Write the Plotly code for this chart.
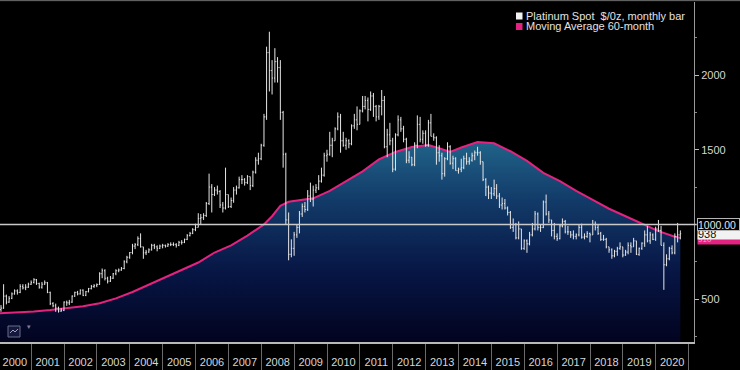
import pandas as pd
import plotly.graph_objects as go

# ---------------- data (monthly bars, Jan-2000 .. Sep-2020) ----------------
OPEN = [
    430, 440, 520, 480, 505, 535, 555, 545, 585, 575, 580, 600,      # 2000
    612, 630, 605, 580, 600, 610, 545, 470, 455, 440, 420, 425,      # 2001
    480, 475, 480, 520, 545, 535, 560, 525, 550, 570, 585, 590,      # 2002
    598, 670, 690, 640, 620, 640, 670, 690, 695, 705, 750, 780,      # 2003
    812, 855, 865, 905, 850, 810, 815, 830, 860, 850, 840, 855,      # 2004
    860, 855, 865, 865, 865, 860, 880, 880, 900, 925, 940, 965,      # 2005
    980, 1040, 1045, 1060, 1140, 1250, 1200, 1230, 1220, 1130, 1110, 1200,  # 2006
    1120, 1160, 1230, 1245, 1300, 1300, 1280, 1320, 1260, 1350, 1430, 1440,  # 2007
    1530, 1720, 2150, 2030, 1980, 2090, 2050, 1750, 1470, 1030, 800, 840,    # 2008
    930, 980, 1070, 1120, 1100, 1190, 1170, 1230, 1245, 1290, 1330, 1460,    # 2009
    1470, 1530, 1560, 1640, 1720, 1560, 1530, 1560, 1540, 1660, 1700, 1670,  # 2010
    1760, 1790, 1830, 1770, 1860, 1790, 1720, 1790, 1830, 1520, 1600, 1560,  # 2011
    1370, 1600, 1700, 1640, 1570, 1430, 1450, 1400, 1530, 1670, 1570, 1610,  # 2012
    1530, 1680, 1590, 1580, 1480, 1460, 1340, 1440, 1520, 1410, 1440, 1360,  # 2013
    1370, 1380, 1440, 1420, 1430, 1460, 1480, 1480, 1420, 1300, 1250, 1210,  # 2014
    1205, 1240, 1190, 1130, 1140, 1110, 1080, 980, 1000, 910, 970, 840,      # 2015
    890, 870, 930, 970, 1070, 980, 980, 1150, 1070, 1030, 960, 920,          # 2016
    905, 990, 1020, 950, 950, 930, 920, 930, 980, 915, 920, 940,             # 2017
    930, 1000, 980, 940, 900, 900, 850, 830, 790, 820, 840, 850,             # 2018
    795, 815, 860, 850, 890, 800, 840, 875, 930, 890, 930, 900,              # 2019
    970, 960, 860, 730, 770, 840, 810, 920, 930,                             # 2020
]
HIGH = [
    460, 600, 530, 520, 545, 565, 565, 600, 600, 600, 610, 625,
    640, 635, 610, 615, 625, 615, 550, 480, 470, 450, 440, 485,
    490, 495, 525, 550, 555, 565, 565, 555, 575, 595, 600, 605,
    680, 705, 700, 650, 655, 675, 700, 705, 715, 760, 790, 815,
    870, 875, 920, 940, 850, 830, 840, 870, 870, 860, 865, 870,
    865, 875, 880, 880, 875, 890, 895, 905, 935, 950, 975, 1005,
    1075, 1070, 1075, 1150, 1340, 1270, 1250, 1260, 1230, 1150, 1380, 1200,
    1180, 1250, 1260, 1320, 1330, 1310, 1330, 1320, 1360, 1450, 1480, 1540,
    1740, 2190, 2290, 2100, 2180, 2120, 2100, 1760, 1480, 1080, 900, 950,
    1000, 1090, 1140, 1150, 1230, 1280, 1260, 1270, 1330, 1380, 1480, 1500,
    1620, 1580, 1650, 1750, 1740, 1620, 1580, 1570, 1670, 1740, 1790, 1770,
    1860, 1860, 1850, 1890, 1880, 1800, 1800, 1900, 1860, 1640, 1680, 1580,
    1610, 1730, 1720, 1660, 1580, 1490, 1450, 1550, 1730, 1720, 1630, 1630,
    1700, 1740, 1610, 1590, 1530, 1480, 1450, 1550, 1530, 1460, 1450, 1380,
    1440, 1460, 1480, 1450, 1480, 1495, 1520, 1490, 1420, 1310, 1260, 1250,
    1300, 1270, 1210, 1180, 1170, 1120, 1090, 1040, 1010, 1020, 970, 900,
    900, 950, 1010, 1090, 1080, 1000, 1160, 1200, 1090, 1030, 1010, 940,
    1000, 1040, 1030, 990, 955, 960, 940, 1000, 1005, 940, 955, 945,
    1030, 1020, 1000, 950, 930, 910, 850, 840, 830, 850, 880, 850,
    830, 880, 880, 910, 890, 845, 880, 960, 990, 950, 940, 985,
    1030, 990, 880, 800, 850, 860, 940, 1010, 960,
]
LOW = [
    415, 435, 465, 475, 500, 530, 530, 540, 565, 560, 575, 595,
    605, 595, 570, 570, 595, 540, 460, 445, 415, 410, 415, 420,
    455, 460, 475, 515, 525, 530, 520, 520, 545, 565, 575, 580,
    595, 640, 625, 605, 615, 635, 660, 680, 690, 700, 740, 770,
    800, 835, 855, 845, 770, 795, 810, 825, 835, 820, 835, 840,
    845, 850, 855, 855, 845, 855, 865, 875, 895, 920, 935, 955,
    980, 1000, 1030, 1050, 1130, 1080, 1190, 1200, 1110, 1080, 1100, 1110,
    1110, 1145, 1200, 1240, 1270, 1260, 1270, 1230, 1250, 1340, 1400, 1430,
    1520, 1700, 1890, 1870, 1950, 1950, 1700, 1380, 1000, 760, 780, 790,
    910, 940, 1050, 1080, 1090, 1150, 1120, 1210, 1230, 1280, 1320, 1420,
    1460, 1450, 1560, 1630, 1480, 1520, 1500, 1510, 1530, 1640, 1630, 1670,
    1750, 1770, 1690, 1760, 1720, 1690, 1700, 1730, 1510, 1450, 1530, 1350,
    1360, 1590, 1620, 1550, 1410, 1410, 1390, 1390, 1510, 1550, 1540, 1520,
    1520, 1590, 1560, 1400, 1420, 1300, 1320, 1430, 1400, 1370, 1360, 1340,
    1350, 1370, 1400, 1400, 1420, 1430, 1460, 1400, 1290, 1190, 1170, 1170,
    1190, 1170, 1110, 1100, 1100, 1060, 970, 950, 900, 900, 830, 830,
    810, 860, 920, 960, 960, 950, 975, 1060, 1010, 920, 900, 890,
    900, 980, 940, 930, 910, 900, 900, 920, 905, 900, 910, 880,
    930, 960, 930, 890, 890, 840, 810, 770, 780, 790, 830, 780,
    790, 800, 810, 850, 795, 790, 830, 850, 880, 870, 895, 890,
    950, 860, 562, 720, 760, 800, 800, 880, 900,
]
CLOSE = [
    440, 520, 480, 505, 535, 555, 545, 585, 575, 580, 600, 612,
    630, 605, 580, 600, 610, 545, 470, 455, 440, 420, 425, 480,
    475, 480, 520, 545, 535, 560, 525, 550, 570, 585, 590, 598,
    670, 690, 640, 620, 640, 670, 690, 695, 705, 750, 780, 812,
    855, 865, 905, 850, 810, 815, 830, 860, 850, 840, 855, 860,
    855, 865, 865, 865, 860, 880, 880, 900, 925, 940, 965, 980,
    1040, 1045, 1060, 1140, 1250, 1200, 1230, 1220, 1130, 1110, 1200, 1120,
    1160, 1230, 1245, 1300, 1300, 1280, 1320, 1260, 1350, 1430, 1440, 1530,
    1720, 2150, 2030, 1980, 2090, 2050, 1750, 1470, 1030, 800, 840, 930,
    980, 1070, 1120, 1100, 1190, 1170, 1230, 1245, 1290, 1330, 1460, 1470,
    1530, 1560, 1640, 1720, 1560, 1530, 1560, 1540, 1660, 1700, 1670, 1760,
    1790, 1830, 1770, 1860, 1790, 1720, 1790, 1830, 1520, 1600, 1560, 1370,
    1600, 1700, 1640, 1570, 1430, 1450, 1400, 1530, 1670, 1570, 1610, 1530,
    1680, 1590, 1580, 1480, 1460, 1340, 1440, 1520, 1410, 1440, 1360, 1370,
    1380, 1440, 1420, 1430, 1460, 1480, 1480, 1420, 1300, 1250, 1210, 1205,
    1240, 1190, 1130, 1140, 1110, 1080, 980, 1000, 910, 970, 840, 890,
    870, 930, 970, 1070, 980, 980, 1150, 1070, 1030, 960, 920, 905,
    990, 1020, 950, 950, 930, 920, 930, 980, 915, 920, 940, 930,
    1000, 980, 940, 900, 900, 850, 830, 790, 820, 840, 850, 795,
    815, 860, 850, 890, 800, 840, 875, 930, 890, 930, 900, 970,
    960, 860, 730, 770, 840, 810, 920, 930, 938,
]

# 60-month moving average
MA_DATES = [
    "1999-12-31", "2000-07-31", "2001-01-31", "2001-07-31", "2002-01-31", "2002-07-31",
    "2003-01-31", "2003-07-31", "2004-01-31", "2004-07-31", "2005-01-31", "2005-07-31",
    "2006-01-31", "2006-07-31", "2007-01-31", "2007-07-31", "2008-01-31", "2008-04-30",
    "2008-07-31", "2008-10-31", "2009-01-31", "2009-07-31", "2010-01-31", "2010-07-31",
    "2011-01-31", "2011-07-31", "2012-01-31", "2012-07-31", "2013-01-31", "2013-05-31",
    "2013-09-30", "2014-01-31", "2014-07-31", "2015-01-31", "2015-07-31", "2016-01-31",
    "2016-07-31", "2017-01-31", "2017-07-31", "2018-01-31", "2018-07-31", "2019-01-31",
    "2019-07-31", "2020-01-31", "2020-07-31", "2020-09-30",
]
MA_VALUES = [
    404, 410, 418, 427, 438, 452,
    472, 505, 548, 598, 648, 695,
    745, 812, 860, 925, 1000, 1055,
    1125, 1152, 1160, 1175, 1225, 1290,
    1355, 1435, 1485, 1518, 1532, 1510,
    1485, 1515, 1552, 1543, 1490, 1425,
    1345, 1290, 1225, 1165, 1105, 1055,
    1005, 955, 918, 910,
]

LAST_PRICE = CLOSE[-1]
LAST_MA = MA_VALUES[-1]
HLINE_LEVEL = 1000
SERIES_NAMES = ["Platinum Spot  $/0z, monthly bar", "Moving Average 60-month"]

DATES = pd.date_range("2000-01-31", periods=len(CLOSE), freq="ME")

# ---------------- figure ----------------
PINK = "#e3237f"
BAR = "#e6e6e6"
FONT = "Liberation Sans, Arial, sans-serif"
X_RANGE = ["2000-01-20", "2021-03-01"]
Y_RANGE = [213, 2489]

fig = go.Figure()

# moving average with gradient fill (base axes, drawn underneath)
fig.add_trace(go.Scatter(
    x=MA_DATES, y=MA_VALUES, mode="lines",
    line=dict(color=PINK, width=2),
    fill="tozeroy",
    fillgradient=dict(
        type="vertical", start=213, stop=1560,
        colorscale=[[0, "#02031f"], [0.35, "#071645"], [0.7, "#123a68"], [1, "#20648a"]],
    ),
    showlegend=False, hoverinfo="skip",
    xaxis="x", yaxis="y",
))

# monthly OHLC bars on overlaying axes so they sit above the fill
fig.add_trace(go.Ohlc(
    x=DATES, open=OPEN, high=HIGH, low=LOW, close=CLOSE,
    increasing=dict(line=dict(color=BAR, width=1)),
    decreasing=dict(line=dict(color=BAR, width=1)),
    tickwidth=0.35, showlegend=False,
    xaxis="x2", yaxis="y2",
))

fig.update_layout(
    width=740, height=370,
    margin=dict(l=0, r=46, t=2, b=28, autoexpand=False),
    paper_bgcolor="#000000", plot_bgcolor="#000000",
    font=dict(family=FONT, color="#d6d6d6", size=11),
    showlegend=False,
    xaxis=dict(
        type="date", range=X_RANGE, automargin=False,
        rangeslider=dict(visible=False),
        showgrid=False, zeroline=False,
        showline=True, linecolor="#b8b8b8", linewidth=1.5,
        ticks="outside", ticklen=28, tickcolor="#6a6a6a", tickwidth=1,
        tick0="2000-01-01", dtick="M12", tickformat="%Y",
        ticklabelmode="period", ticklabelstandoff=-19,
        tickfont=dict(size=11, color="#d6d6d6", family=FONT),
    ),
    yaxis=dict(
        side="right", range=Y_RANGE, automargin=False,
        showgrid=False, zeroline=False,
        showline=True, linecolor="#9a9a9a", linewidth=1,
        tickvals=[500, 1500, 2000], ticks="outside", ticklen=4,
        tickcolor="#bdbdbd", tickwidth=1,
        tickfont=dict(size=11, color="#d6d6d6", family=FONT),
        minor=dict(tickvals=[250, 750, 1250, 1750, 2250], ticks="outside",
                   ticklen=2, tickcolor="#888888"),
    ),
    xaxis2=dict(
        type="date", range=X_RANGE, overlaying="x", visible=False,
        rangeslider=dict(visible=False), automargin=False,
        showgrid=False, zeroline=False,
    ),
    yaxis2=dict(
        range=Y_RANGE, overlaying="y", visible=False, automargin=False,
        showgrid=False, zeroline=False,
    ),
)

# horizontal reference line at 1000
fig.add_shape(type="line", xref="paper", yref="y", x0=0, x1=1.004,
              y0=HLINE_LEVEL, y1=HLINE_LEVEL, line=dict(color="#c9c9c9", width=1.5))
# top frame line
fig.add_shape(type="line", xref="paper", yref="paper", x0=0, x1=1.07, y0=1.004, y1=1.004,
              line=dict(color="#6e6e6e", width=1))

# right-side value labels
fig.add_annotation(xref="paper", yref="y", x=1.004, y=LAST_MA, xanchor="left", yanchor="middle",
                   yshift=-2,
                   text=f"{LAST_MA:.0f}", showarrow=False, bgcolor=PINK, width=42, height=9,
                   font=dict(size=8, color="#f3a9cd", family=FONT), align="left", borderpad=0)
fig.add_annotation(xref="paper", yref="y", x=1.004, y=LAST_PRICE, xanchor="left", yanchor="middle",
                   text=f"{LAST_PRICE:.0f}", showarrow=False, bgcolor="#f2f2f2", width=42, height=10,
                   font=dict(size=11, color="#111111", family=FONT), align="left", borderpad=0)
fig.add_annotation(xref="paper", yref="y", x=1.004, y=HLINE_LEVEL, xanchor="left", yanchor="middle",
                   text=f"{HLINE_LEVEL:.2f}", showarrow=False, bgcolor="#000000",
                   bordercolor="#b5b5b5", borderwidth=1, width=41, height=11, borderpad=0,
                   font=dict(size=10.5, color="#e6e6e6", family=FONT), align="left")

# legend (top right)
for i, (name, col) in enumerate(zip(SERIES_NAMES, ["#f2f2f2", PINK])):
    ytop = 1 - (10.5 + i * 10.5) / 340
    fig.add_shape(type="rect", xref="paper", yref="paper",
                  x0=516 / 694, x1=522.5 / 694, y0=ytop - 7 / 340, y1=ytop,
                  fillcolor=col, line=dict(width=0))
    fig.add_annotation(xref="paper", yref="paper", x=524 / 694, y=ytop - 3.5 / 340,
                       xanchor="left", yanchor="middle", text=name, showarrow=False,
                       font=dict(size=11, color="#e2e2e2", family=FONT))

# small chart-type icon bottom-left
fig.add_shape(type="rect", xref="paper", yref="paper",
              x0=8 / 694, x1=20 / 694, y0=(342 - 337) / 340, y1=(342 - 326) / 340,
              fillcolor="#15183c", line=dict(color="#6b6f8a", width=1))
fig.add_shape(type="path", xref="paper", yref="paper",
              path=f"M {10/694} {(342-333)/340} L {13/694} {(342-330)/340} "
                   f"L {15/694} {(342-332)/340} L {18/694} {(342-329)/340}",
              line=dict(color="#9ea3c0", width=1))
fig.add_annotation(xref="paper", yref="paper", x=25 / 694, y=(342 - 331.5) / 340,
                   text="▾", showarrow=False, font=dict(size=7, color="#7d819c"))

fig.write_html("out.html", config={"displayModeBar": False},
               post_script="document.body.style.margin='0';")
